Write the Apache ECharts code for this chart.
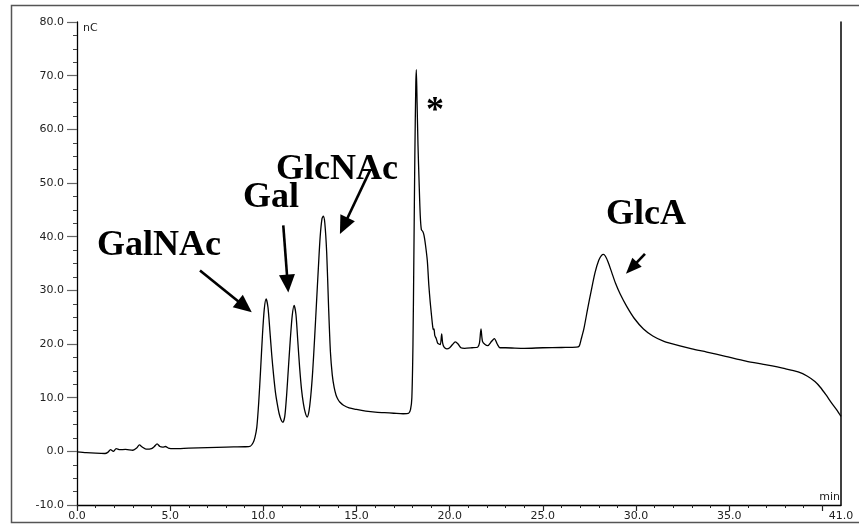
<!DOCTYPE html>
<html>
<head>
<meta charset="utf-8">
<script src="https://cdn.jsdelivr.net/npm/echarts@6/dist/echarts.min.js"></script>
<style>
  html, body { margin: 0; padding: 0; background: #fff; }
  #chart { width: 859px; height: 527px; }
</style>
</head>
<body>
<div id="chart"></div>
<script>
// Retention time (min) of each sample point of the trace
const timeMin = [
  0.0, 0.5, 1.0, 1.5, 1.65, 1.8, 1.95, 2.1, 2.3, 2.6, 3.0, 3.2, 3.35, 3.5, 3.7, 4.0, 4.15, 4.3, 4.45, 4.6, 4.75, 4.9, 5.2,
  6.0, 7.0, 8.0, 9.0, 9.3, 9.45, 9.55, 9.65, 9.75, 9.85, 9.95, 10.05, 10.15, 10.25, 10.35, 10.45, 10.55, 10.65, 10.75,
  10.85, 10.95, 11.05, 11.15, 11.25, 11.35, 11.45, 11.55, 11.65, 11.75, 11.85, 11.95, 12.05, 12.15, 12.25, 12.35,
  12.45, 12.55, 12.65, 12.75, 12.85, 12.95, 13.05, 13.15, 13.22, 13.3, 13.4, 13.5, 13.6, 13.7, 13.8, 13.9, 14.0, 14.1,
  14.3, 14.6, 15.0, 15.5, 16.0, 16.5, 17.0, 17.5, 17.8, 17.9, 17.97, 18.03, 18.08, 18.13, 18.18, 18.21, 18.25, 18.3,
  18.36, 18.42, 18.48, 18.55, 18.62, 18.7, 18.8, 18.88, 18.95, 19.02, 19.08, 19.12, 19.16, 19.2, 19.28, 19.35, 19.42,
  19.5, 19.57, 19.62, 19.7, 19.85, 20.0, 20.15, 20.3, 20.45, 20.6, 20.8, 21.2, 21.5, 21.6, 21.68, 21.76, 21.9, 22.05,
  22.25, 22.4, 22.55, 22.7, 23.0, 24.0, 25.0, 26.0, 26.8, 26.95, 27.05, 27.2, 27.4, 27.6, 27.8, 28.0, 28.15, 28.25,
  28.35, 28.5, 28.7, 28.9, 29.15, 29.5, 29.9, 30.4, 30.9, 31.5, 32.3, 33.0, 33.8, 34.8, 35.9, 37.0, 38.0, 38.7, 39.2,
  39.6, 39.9, 40.2, 40.5, 40.8, 41.0
];
// Detector response (nC) at each retention time
const signalNC = [
  -0.1, -0.25, -0.35, -0.4, -0.2, 0.3, 0.0, 0.5, 0.3, 0.35, 0.2, 0.6, 1.2, 0.8, 0.4, 0.5, 0.9, 1.4, 0.9, 0.8, 0.9, 0.6, 0.5,
  0.6, 0.7, 0.8, 0.85, 0.95, 1.6, 2.6, 4.5, 9.0, 15.0, 21.5, 26.5, 28.4, 26.8, 22.5, 18.0, 14.2, 11.0, 8.8,
  7.0, 5.9, 5.4, 6.5, 10.5, 15.8, 21.0, 25.3, 27.2, 25.5, 20.5, 15.5, 11.5, 8.9, 7.2, 6.4,
  7.5, 10.5, 15.0, 21.0, 27.5, 34.0, 40.0, 43.4, 43.8, 42.5, 37.0, 27.0, 18.5, 14.2, 11.9, 10.5, 9.7, 9.2,
  8.6, 8.1, 7.8, 7.5, 7.3, 7.2, 7.1, 7.0, 7.1, 7.8, 10.0, 20.0, 37.0, 55.0, 68.0, 71.1, 65.0, 57.0,
  50.0, 44.0, 41.3, 41.0, 40.3, 38.5, 35.5, 31.0, 28.0, 25.5, 23.5, 22.7, 22.8, 21.6, 21.0, 20.2, 20.0,
  19.9, 21.9, 20.2, 19.4, 19.1, 19.3, 19.9, 20.4, 20.0, 19.3, 19.2, 19.3, 19.4, 20.2, 22.8, 20.5, 19.9, 19.7,
  20.5, 21.0, 20.0, 19.3, 19.3, 19.2, 19.3, 19.35, 19.4, 19.6, 20.8, 22.8, 26.5, 30.0, 33.3, 35.6, 36.5, 36.7,
  36.4, 35.3, 33.3, 31.3, 29.3, 27.0, 24.8, 22.8, 21.5, 20.5, 19.7, 19.1, 18.5, 17.7, 16.8, 16.1, 15.4, 14.8, 14.0,
  13.0, 11.9, 10.5, 9.0, 7.6, 6.5
];

// Axis ranges and tick positions
const timeRange = [0, 41];
const signalRange = [-10, 80];
const timeMajorTicks = [0, 5, 10, 15, 20, 25, 30, 35, 40];
const timeLabelValues = [0, 5, 10, 15, 20, 25, 30, 35, 41];
const timeMinorTicks = [1, 2, 3, 4, 6, 7, 8, 9, 11, 12, 13, 14, 16, 17, 18, 19, 21, 22, 23, 24,
  26, 27, 28, 29, 31, 32, 33, 34, 36, 37, 38, 39];

// Peak annotation texts
const peakNames = ['GalNAc', 'Gal', 'GlcNAc', '*', 'GlcA'];

const trace = timeMin.map((t, i) => [t, signalNC[i]]);

// Placement of each annotation, in axis units (min, nC)
const notePlacement = [
  { text: [1.07, 38.4], arrow: [[6.6, 33.7], [9.38, 25.9]] },
  { text: [8.91, 47.2], arrow: [[11.07, 42.1], [11.34, 29.6]] },
  { text: [10.68, 52.5], arrow: [[15.72, 52.3], [14.11, 40.5]] },
  { text: [19.21, 63.2], center: true },
  { text: [28.39, 44.1], arrow: [[30.48, 36.8], [29.46, 33.1]] }
];

const axisFont = '"DejaVu Sans", sans-serif';
const fmt = v => Number(v).toFixed(1);

const option = {
  backgroundColor: '#ffffff',
  animation: false,
  grid: { left: 77, right: 18, top: 22, bottom: 22, containLabel: false },
  xAxis: [
    {
      type: 'value', position: 'bottom',
      min: timeRange[0], max: timeRange[1], interval: 5,
      name: 'min', nameLocation: 'end', nameGap: -1,
      nameTextStyle: { fontFamily: axisFont, fontSize: 11, color: '#222', align: 'right', verticalAlign: 'bottom', padding: [0, 0, 2, 0] },
      axisLine: { show: true, onZero: false, lineStyle: { color: '#000', width: 1.3 } },
      axisTick: { show: true, length: 6, customValues: timeMajorTicks, lineStyle: { color: '#222', width: 1.2 } },
      axisLabel: { show: true, customValues: timeLabelValues, formatter: fmt, margin: 6, fontFamily: axisFont, fontSize: 11, color: '#222' },
      splitLine: { show: false }
    },
    {
      type: 'value', position: 'bottom',
      min: timeRange[0], max: timeRange[1], interval: 5,
      axisLine: { show: false, onZero: false },
      axisTick: { show: true, length: 3, customValues: timeMinorTicks, lineStyle: { color: '#222', width: 1 } },
      axisLabel: { show: false },
      splitLine: { show: false }
    }
  ],
  yAxis: [
    {
      type: 'value', position: 'left',
      min: signalRange[0], max: signalRange[1], interval: 10,
      name: 'nC', nameLocation: 'end', nameGap: -6,
      nameTextStyle: { fontFamily: axisFont, fontSize: 11, color: '#222', align: 'left', verticalAlign: 'middle', padding: [0, 0, 0, 6] },
      axisLine: { show: true, onZero: false, lineStyle: { color: '#000', width: 1.3 } },
      axisTick: { show: true, length: 10, lineStyle: { color: '#666', width: 1.2 } },
      minorTick: { show: true, splitNumber: 4, length: 4, lineStyle: { color: '#444', width: 1 } },
      axisLabel: { formatter: fmt, margin: 13, fontFamily: axisFont, fontSize: 11, color: '#222' },
      splitLine: { show: false },
      minorSplitLine: { show: false }
    },
    {
      type: 'value', position: 'right',
      min: signalRange[0], max: signalRange[1], interval: 10,
      axisLine: { show: true, onZero: false, lineStyle: { color: '#000', width: 1.5 } },
      axisTick: { show: false },
      axisLabel: { show: false },
      splitLine: { show: false }
    }
  ],
  series: [
    {
      type: 'line',
      xAxisIndex: 0, yAxisIndex: 0,
      data: trace,
      showSymbol: false,
      smooth: 0.25,
      lineStyle: { color: '#000', width: 1.3 },
      silent: true
    }
  ]
};

const chart = echarts.init(document.getElementById('chart'));
chart.setOption(option);

// Annotations: bold labels and filled arrows, anchored in axis units
function toPx(p) { return chart.convertToPixel({ seriesIndex: 0 }, p); }

function arrowShapes(from, to, headLen, headWidth, lineWidth) {
  const a = toPx(from), b = toPx(to);
  const dx = b[0] - a[0], dy = b[1] - a[1];
  const len = Math.hypot(dx, dy);
  const ux = dx / len, uy = dy / len;
  const bx = b[0] - ux * headLen, by = b[1] - uy * headLen;
  const nx = -uy * headWidth / 2, ny = ux * headWidth / 2;
  return [
    { type: 'polyline', silent: true, shape: { points: [a, [bx + ux * 2, by + uy * 2]] },
      style: { stroke: '#000', lineWidth: lineWidth, fill: null } },
    { type: 'polygon', silent: true, shape: { points: [b, [bx + nx, by + ny], [bx - nx, by - ny]] },
      style: { fill: '#000', stroke: null } }
  ];
}

const graphics = [
  // Outer frame of the figure
  { type: 'rect', silent: true, shape: { x: 11.5, y: 5.5, width: 900, height: 517 },
    style: { fill: null, stroke: '#555', lineWidth: 1.5 } }
];

notePlacement.forEach((n, i) => {
  const p = toPx(n.text);
  graphics.push({
    type: 'text', silent: true,
    style: {
      text: peakNames[i], x: p[0], y: p[1],
      font: 'bold 36px "Liberation Serif", "Times New Roman", serif',
      fill: '#000', align: n.center ? 'center' : 'left', verticalAlign: 'middle'
    }
  });
  if (n.arrow) {
    const small = i === 4;
    arrowShapes(n.arrow[0], n.arrow[1], small ? 16 : 18, small ? 13 : 16, 2.6).forEach(g => graphics.push(g));
  }
});

chart.setOption({ graphic: graphics });
</script>
</body>
</html>
